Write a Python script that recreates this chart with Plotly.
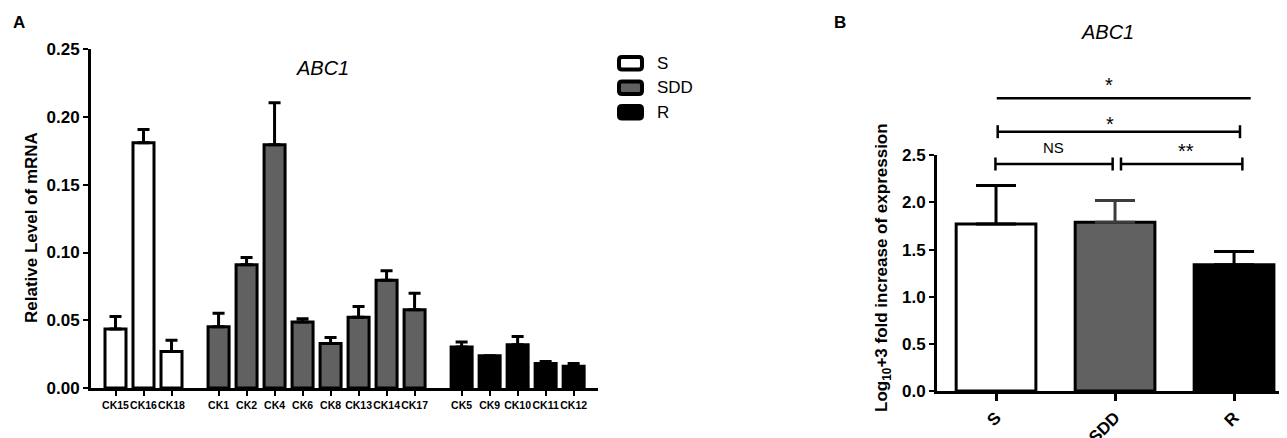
import plotly.graph_objects as go

# ---------------- Data: panel A ----------------
s_names = ["CK15", "CK16", "CK18"]
s_vals = [0.0435, 0.181, 0.027]
s_err = [0.0093, 0.0098, 0.0083]

sdd_names = ["CK1", "CK2", "CK4", "CK6", "CK8", "CK13", "CK14", "CK17"]
sdd_vals = [0.0452, 0.091, 0.1795, 0.0487, 0.0329, 0.0523, 0.0796, 0.0578]
sdd_err = [0.0100, 0.0054, 0.0310, 0.0025, 0.0044, 0.0078, 0.0070, 0.0122]

r_names = ["CK5", "CK9", "CK10", "CK11", "CK12"]
r_vals = [0.0302, 0.0238, 0.0320, 0.0180, 0.0160]
r_err = [0.0037, 0.0, 0.0060, 0.0015, 0.0020]

group_labels = ["S", "SDD", "R"]
group_fills = ["#ffffff", "#616161", "#000000"]

# ---------------- Data: panel B ----------------
b_cats = ["S", "SDD", "R"]
b_vals = [1.77, 1.79, 1.34]
b_err = [0.41, 0.23, 0.14]
b_err_colors = ["#000000", "#3c3c3c", "#000000"]

# significance comparisons: (from index, to index, label, has end ticks, level)
comparisons = [
    (0, 2, "*", False, 3),
    (0, 2, "*", True, 2),
    (0, 1, "NS", True, 1),
    (1, 2, "**", True, 1),
]

FONT = "Arial, Liberation Sans, sans-serif"
W, H = 1287, 438          # page / window size
OFF = 8                   # default body margin of the html page
FW, FH = W - OFF, H - OFF  # figure size so it fills the window exactly


def px2paper(x, y):
    """window pixel -> paper coordinates of the figure"""
    return (x - OFF) / FW, 1 - (y - OFF) / FH


def xdom(x0, x1):
    return [max(0.0, px2paper(x0, 0)[0]), min(1.0, px2paper(x1, 0)[0])]


def ydom(ytop, ybot):
    return [max(0.0, px2paper(0, ybot)[1]), min(1.0, px2paper(0, ytop)[1])]


fig = go.Figure()

# ---- Panel A bars ----
gap = 0.68
k = 0
all_x, all_names = [], []
for gi, (names, vals, errs) in enumerate(
        [(s_names, s_vals, s_err), (sdd_names, sdd_vals, sdd_err), (r_names, r_vals, r_err)]):
    xs = [k + i + gi * gap for i in range(len(names))]
    k += len(names)
    all_x += xs
    all_names += names
    fig.add_trace(go.Bar(
        x=xs, y=vals, width=0.75, name=group_labels[gi],
        marker=dict(color=group_fills[gi], line=dict(color="black", width=3)),
        error_y=dict(type="data", array=errs, arrayminus=[0] * len(errs), symmetric=False,
                     thickness=3, width=6, color="black"),
        xaxis="x", yaxis="y", showlegend=False,
    ))

# ---- Panel B bars ----
for i, c in enumerate(b_cats):
    fig.add_trace(go.Bar(
        x=[i], y=[b_vals[i]], width=0.67, name=c,
        marker=dict(color=group_fills[i], line=dict(color="black", width=3)),
        error_y=dict(type="data", array=[b_err[i]], arrayminus=[0], symmetric=False,
                     thickness=3, width=20, color=b_err_colors[i]),
        xaxis="x2", yaxis="y2", showlegend=False,
    ))

axis_common = dict(showgrid=False, zeroline=False, showline=True, linecolor="black",
                   ticks="outside", tickcolor="black", automargin=False)

fig.update_layout(
    width=FW, height=FH, autosize=False,
    margin=dict(l=0, r=0, t=0, b=0, pad=0, autoexpand=False),
    paper_bgcolor="white", plot_bgcolor="white", showlegend=False,
    barmode="overlay", font=dict(family=FONT, color="black"),
    xaxis=dict(domain=xdom(91, 598), range=[-0.875, 17.23], anchor="y",
               tickvals=all_x, ticktext=all_names, tickangle=0, linewidth=3, ticklen=5,
               tickwidth=2, tickfont=dict(size=10.5, weight="bold", family=FONT), **axis_common),
    yaxis=dict(domain=ydom(49, 388), range=[0, 0.2502], dtick=0.05, tickformat=".2f",
               anchor="x", linewidth=3, ticklen=5, tickwidth=2,
               tickfont=dict(size=17, weight="bold", family=FONT), **axis_common),
    xaxis2=dict(domain=xdom(937, W), range=[-0.496, 2.445], anchor="y2",
                tickvals=list(range(len(b_cats))), ticktext=b_cats, tickangle=-45,
                linewidth=3, ticklen=7, tickwidth=3,
                tickfont=dict(size=17, weight="bold", family=FONT), **axis_common),
    yaxis2=dict(domain=ydom(155.3, 391), range=[0, 2.5], dtick=0.5, tickformat=".1f",
                anchor="x2", linewidth=3, ticklen=5, tickwidth=2,
                tickfont=dict(size=17, weight="bold", family=FONT), **axis_common),
)

annotations = []
shapes = []


def ann(text, x, y, size, **kw):
    px, py = px2paper(x, y)
    d = dict(text=text, x=px, y=py, xref="paper", yref="paper", showarrow=False,
             xanchor="center", yanchor="middle", font=dict(size=size, family=FONT))
    d.update(kw)
    annotations.append(d)


# Panel labels and titles
ann("<b>A</b>", 19, 23, 17)
ann("<b>B</b>", 840, 23, 17)
ann("<i>ABC1</i>", 322, 68, 20)
ann("<i>ABC1</i>", 1107, 32, 20)

# Axis titles
ann("<b>Relative Level of mRNA</b>", 31, 228, 17, textangle=-90)
ann("<b>Log<sub>10</sub>+3 fold increase of expression</b>", 883, 268, 17, textangle=-90)


# Legend (manual, rounded boxes)
def rrect_path(x0, y0, x1, y1, r):
    def P(x, y):
        a, b = px2paper(x, y)
        return "%.5f,%.5f" % (a, b)
    return ("M %s L %s Q %s %s L %s Q %s %s L %s Q %s %s L %s Q %s %s Z" % (
        P(x0 + r, y0), P(x1 - r, y0), P(x1, y0), P(x1, y0 + r), P(x1, y1 - r),
        P(x1, y1), P(x1 - r, y1), P(x0 + r, y1), P(x0, y1), P(x0, y1 - r),
        P(x0, y0 + r), P(x0, y0), P(x0 + r, y0)))


for i, lab in enumerate(group_labels):
    yc = 63.3 + i * 24.5
    shapes.append(dict(type="path", path=rrect_path(619, yc - 6.3, 642, yc + 6.3, 3),
                       xref="paper", yref="paper", fillcolor=group_fills[i],
                       line=dict(color="black", width=4)))
    ann(lab, 655, yc, 17, xanchor="left")

# Significance brackets (panel B)
level_y = {1: 164, 2: 131.7, 3: 98.3}
end_adj = {(0, 2, 3): (0.006, 0.14), (0, 2, 2): (0.014, 0.05), (0, 1, 1): (-0.005, -0.02),
           (1, 2, 1): (0.05, 0.07)}
label_pos = {(0, 2, 3): (0.95, 80), (0, 2, 2): (0.955, 119), (0, 1, 1): (0.48, 147),
             (1, 2, 1): (1.6, 146)}
tk = 6.5 / FH
for (a, b, lab, ticks, lvl) in comparisons:
    da, db = end_adj[(a, b, lvl)]
    xa, xb = a + da, b + db
    _, yl = px2paper(0, level_y[lvl])
    shapes.append(dict(type="line", xref="x2", yref="paper", x0=xa, x1=xb, y0=yl, y1=yl,
                       line=dict(color="black", width=2.5)))
    if ticks:
        for xx in (xa, xb):
            shapes.append(dict(type="line", xref="x2", yref="paper", x0=xx, x1=xx,
                               y0=yl - tk, y1=yl + tk, line=dict(color="black", width=2.5)))
    lx, ly = label_pos[(a, b, lvl)]
    _, lyp = px2paper(0, ly + (5 if "*" in lab else 0))
    annotations.append(dict(text=lab, x=lx, y=lyp, xref="x2", yref="paper", showarrow=False,
                            xanchor="center", yanchor="middle",
                            font=dict(size=20 if "*" in lab else 15, family=FONT)))

fig.update_layout(annotations=annotations, shapes=shapes)
fig.write_html("out.html")
